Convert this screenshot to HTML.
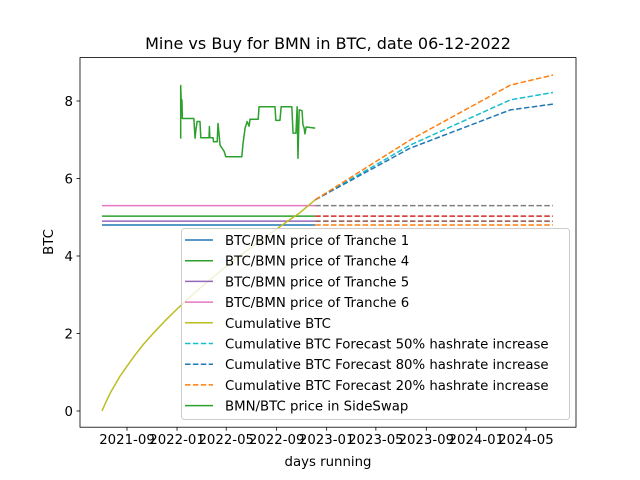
<!DOCTYPE html>
<html><head><meta charset="utf-8"><style>
body{margin:0;background:#fff;}
svg{display:block;font-family:"DejaVu Sans","Liberation Sans",sans-serif;}
</style></head><body>
<svg id="chart" width="640" height="480"></svg>
<script>
// Data (days since 2021-01-01)
const tickLabels = ["2021-09","2022-01","2022-05","2022-09","2023-01","2023-05","2023-09","2024-01","2024-05"];
const tickDays = [243,365,485,608,730,850,973,1095,1216];
const yTicks = [0,2,4,6,8];
const startDay = 182, todayDay = 702, endDay = 1282;
const trancheNames = ["Tranche 1","Tranche 4","Tranche 5","Tranche 6"];
const trancheValues = [4.8, 5.03, 4.9, 5.3];
const cumDays = [182,192,202,214,226,238,250,263,283,311,336,362,390,421,452,484,513,543,574,606,635,665,702];
const cumValues = [0,0.24,0.46,0.68,0.9,1.08,1.26,1.45,1.72,2.05,2.33,2.6,2.88,3.17,3.45,3.72,3.96,4.2,4.44,4.68,4.9,5.12,5.45];
const fcDays = [702,933,1178,1282];
const fc50 = [5.45,6.86,8.03,8.22];
const fc80 = [5.45,6.78,7.77,7.92];
const fc20 = [5.45,6.99,8.41,8.67];
const swapDays = [374,374,376,377,378,406,409,411,414,421,423,443,444,445,453,454,463,465,467,470,480,484,523,526,531,536,541,543,563,565,604,606,616,619,645,648,655,658,660,663,670,672,675,677,680,702];
const swapValues = [7.03,8.4,7.72,8.03,7.55,7.55,7.04,7.25,7.47,7.47,7.05,7.05,7.34,7.05,7.05,6.95,6.95,7.42,7.2,6.86,6.7,6.56,6.56,6.9,7.3,7.47,7.35,7.53,7.53,7.85,7.85,7.5,7.5,7.85,7.85,7.17,7.17,7.85,6.52,7.77,7.75,7.4,7.3,7.15,7.33,7.3];

const L=80,R=576,T=57.6,B=427.2;
const X=d=>127+(d-243)*0.41;
const Y=v=>411-v*38.75;
const svg=document.getElementById('chart');
const NS='http://www.w3.org/2000/svg';
function mk(tag,attrs,parent){const e=document.createElementNS(NS,tag);for(const k in attrs)e.setAttribute(k,attrs[k]);(parent||svg).appendChild(e);return e;}
function line(xs,ys,color,dash,name){
  const pts=xs.map((d,i)=>X(d).toFixed(2)+','+Y(ys[i]).toFixed(2)).join(' ');
  const p=mk('polyline',{points:pts,fill:'none',stroke:color,'stroke-width':1.5,'stroke-linejoin':'round'});
  if(dash)p.setAttribute('stroke-dasharray','5.5,2.4');
  
  
}
const solidC=["#1f77b4","#2ca02c","#9467bd","#e377c2"];
const dashC=["#ff7f0e","#d62728","#8c564b","#7f7f7f"];
trancheValues.forEach((v,i)=>{
  line([startDay,todayDay],[v,v],solidC[i],false,'tranche-line-'+(i+1));
  line([todayDay,endDay],[v,v],dashC[i],true,'tranche-forecast-'+(i+1));
});
line(cumDays,cumValues,"#bcbd22",false,'cumulative-btc-line');
line(fcDays,fc50,"#17becf",true,'forecast-50-line');
line(fcDays,fc80,"#1f77b4",true,'forecast-80-line');
line(fcDays,fc20,"#ff7f0e",true,'forecast-20-line');
line(swapDays,swapValues,"#2ca02c",false,'sideswap-price-line');

// axes
const fr=mk('rect',{x:L,y:T,width:R-L,height:B-T,fill:'none',stroke:'#000','stroke-width':0.8});

tickDays.forEach((d,i)=>{
  const x=X(d);
  mk('line',{x1:x,x2:x,y1:B,y2:B+3.5,stroke:'#000','stroke-width':0.8});
  const t=mk('text',{x:x,y:B+17,'text-anchor':'middle','font-size':'13.3px',fill:'#000'});
  t.textContent=tickLabels[i];
  
});
yTicks.forEach(v=>{
  const y=Y(v);
  mk('line',{x1:L-3.5,x2:L,y1:y,y2:y,stroke:'#000','stroke-width':0.8});
  const t=mk('text',{x:L-7,y:y+5,'text-anchor':'end','font-size':'13.3px',fill:'#000'});
  t.textContent=v;
  
});
let t=mk('text',{x:328,y:49,'text-anchor':'middle','font-size':'16px'});t.textContent='Mine vs Buy for BMN in BTC, date 06-12-2022';

t=mk('text',{x:328,y:466,'text-anchor':'middle','font-size':'13.3px'});t.textContent='days running';

t=mk('text',{x:53,y:242,'text-anchor':'middle','font-size':'13.3px',transform:'rotate(-90 53 242)'});t.textContent='BTC';


// legend
const lg=mk('g',{});

mk('rect',{x:181.5,y:228.5,width:388,height:191,rx:3,fill:'#fff','fill-opacity':0.8,stroke:'#ccc'},lg);
const entries=[["BTC/BMN price of Tranche 1","#1f77b4",0],["BTC/BMN price of Tranche 4","#2ca02c",0],["BTC/BMN price of Tranche 5","#9467bd",0],["BTC/BMN price of Tranche 6","#e377c2",0],["Cumulative BTC","#bcbd22",0],["Cumulative BTC Forecast 50% hashrate increase","#17becf",1],["Cumulative BTC Forecast 80% hashrate increase","#1f77b4",1],["Cumulative BTC Forecast 20% hashrate increase","#ff7f0e",1],["BMN/BTC price in SideSwap","#2ca02c",0]];
entries.forEach((e,i)=>{
  const y=240+i*20.7;
  const g=mk('g',{},lg);
  
  const ln=mk('line',{x1:185,x2:213,y1:y,y2:y,stroke:e[1],'stroke-width':1.5},g);
  if(e[2])ln.setAttribute('stroke-dasharray','5.5,2.4');
  const tx=mk('text',{x:225,y:y+5,'font-size':'13.3px'},g);tx.textContent=e[0];
});
</script>
</body></html>
